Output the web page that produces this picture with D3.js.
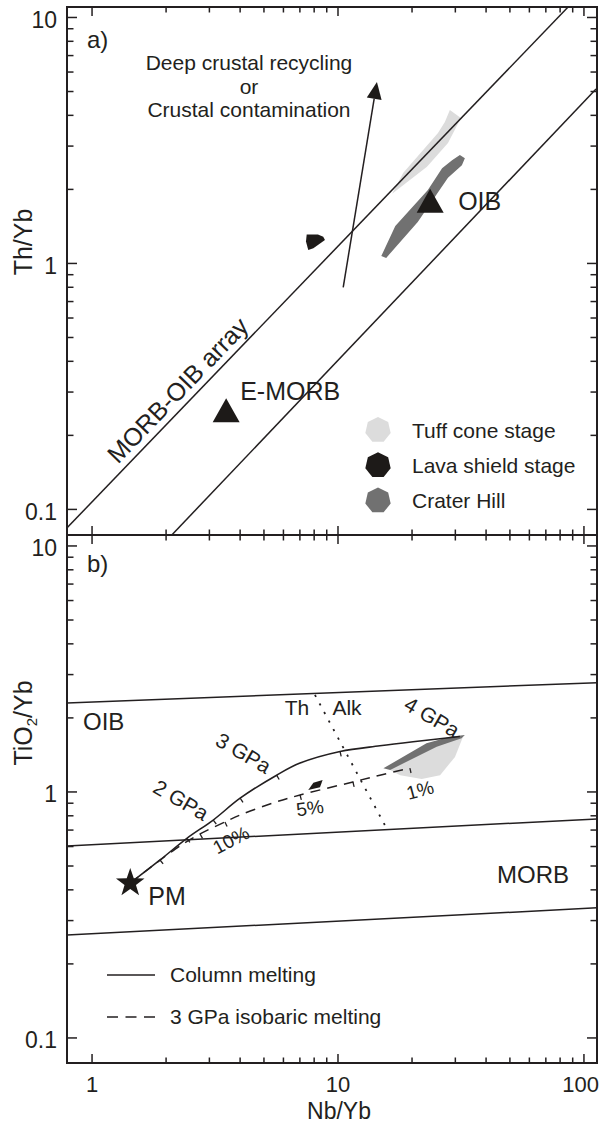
<!DOCTYPE html>
<html>
<head>
<meta charset="utf-8">
<script src="https://cdn.jsdelivr.net/npm/d3@7"></script>
<style>
  body { margin: 0; background: #fff; }
  svg text { font-family: "Liberation Sans", Arial, Helvetica, sans-serif; fill: #231f20; }
</style>
</head>
<body>
<svg id="chart" width="603" height="1124"></svg>
<script>
// ---------- axis domains and tick labels ----------
const nbDomain = [0.791, 113];      // Nb/Yb
const thDomain = [0.0787, 11.03];   // Th/Yb (panel a)
const tiDomain = [0.0791, 11.08];   // TiO2/Yb (panel b)
const xTickLabels = [1, 10, 100];
const yTickLabels = [0.1, 1, 10];

// ---------- panel a: Th/Yb vs Nb/Yb ----------
const arrayUpper = [[0.79, 0.084], [86, 11.0]];
const arrayLower = [[2.11, 0.0787], [112, 5.12]];
const recyclingArrow = [[10.5, 0.80], [14.4, 5.47]];
const tuffConeA = [[28.5, 4.21], [31.6, 3.90], [28.0, 3.09], [23.0, 2.47], [16.6, 1.92], [18.4, 2.33], [25.5, 3.39], [27.2, 3.76]];
const craterHillA = [[31.3, 2.76], [32.8, 2.68], [31.9, 2.51], [28.0, 2.23], [21.1, 1.475], [15.7, 1.053], [15.0, 1.073], [17.1, 1.42], [23.2, 1.99], [26.5, 2.44], [29.1, 2.63]];
const lavaShieldA = [[7.46, 1.31], [8.29, 1.31], [8.71, 1.285], [8.85, 1.246], [7.94, 1.153], [7.57, 1.135], [7.41, 1.227]];
const referenceNames = ["OIB", "E-MORB"];
const referenceNb = [23.7, 3.51];
const referenceTh = [1.80, 0.253];

const legendNames = ["Tuff cone stage", "Lava shield stage", "Crater Hill"];
const legendColors = ["#dcdcdc", "#1d1a18", "#717171"];

// ---------- panel b: TiO2/Yb vs Nb/Yb ----------
const oibBoundary = [[0.791, 2.30], [113, 2.78]];
const morbUpperBoundary = [[0.791, 0.603], [113, 0.777]];
const morbLowerBoundary = [[0.791, 0.262], [113, 0.338]];
const columnMelting = [[1.43, 0.426], [1.89, 0.529], [2.43, 0.648], [3.11, 0.769], [4.0, 0.943], [5.63, 1.17], [7.01, 1.31], [10.2, 1.46], [14.8, 1.54], [20.2, 1.60], [31.3, 1.68]];
const columnTicks = [1.89, 2.43, 3.11, 4.0, 5.63, 10.2];
const isobaricMelting = [[1.43, 0.426], [2.18, 0.586], [2.75, 0.675], [3.47, 0.755], [4.0, 0.806], [5.44, 0.902], [7.01, 0.972], [11.5, 1.098], [14.8, 1.17], [19.6, 1.25]];
const isobaricTicks = [2.75, 3.47, 7.01, 11.5, 19.6];
const thAlkDivide = [[8.06, 2.48], [15.5, 0.734]];
const primitiveMantle = [1.43, 0.426];
const tuffConeB = [[16.3, 1.229], [21.5, 1.51], [32.2, 1.673], [29.9, 1.388], [26.0, 1.17], [21.9, 1.129], [17.9, 1.17]];
const craterHillB = [[15.3, 1.248], [22.9, 1.578], [28.5, 1.678], [32.8, 1.705], [31.8, 1.653], [25.2, 1.528], [16.3, 1.229]];
const lavaShieldB = [[7.57, 1.019], [7.94, 1.091], [8.66, 1.119], [8.45, 1.045]];

// ---------- layout ----------
const INK = "#231f20";
const plotLeft = 67, plotRight = 597;
const aTop = 7, aBottom = 535, bTop = 535, bBottom = 1063;

const svg = d3.select("#chart");

const x = d3.scaleLog().domain(nbDomain).range([plotLeft, plotRight]);
const yA = d3.scaleLog().domain(thDomain).range([aBottom, aTop]);
const yB = d3.scaleLog().domain(tiDomain).range([bBottom, bTop]);

const defs = svg.append("defs");
defs.append("clipPath").attr("id", "clipA").append("rect")
  .attr("x", plotLeft).attr("y", aTop).attr("width", plotRight - plotLeft).attr("height", aBottom - aTop);
defs.append("clipPath").attr("id", "clipB").append("rect")
  .attr("x", plotLeft).attr("y", bTop).attr("width", plotRight - plotLeft).attr("height", bBottom - bTop);

function lineGen(y) {
  return d3.line().x(d => x(d[0])).y(d => y(d[1]));
}
function polyPath(y, pts) {
  return "M" + pts.map(d => x(d[0]) + "," + y(d[1])).join("L") + "Z";
}

// ---------- frame ticks (inward on all four sides) ----------
function drawAxes(y, top, bottom) {
  const xt = x.ticks().filter(v => v >= 1 && v <= 100);
  const yt = y.ticks().filter(v => v >= 0.1 && v <= 10);
  const isMajor = v => Math.abs(Math.log10(v) - Math.round(Math.log10(v))) < 1e-6;
  const g = svg.append("g").attr("stroke", INK).attr("fill", "none");
  xt.forEach(v => {
    const len = isMajor(v) ? 9 : 5.5;
    g.append("line").attr("x1", x(v)).attr("x2", x(v)).attr("y1", bottom).attr("y2", bottom - len).attr("stroke-width", 1.5);
    g.append("line").attr("x1", x(v)).attr("x2", x(v)).attr("y1", top).attr("y2", top + len).attr("stroke-width", 1.5);
  });
  yt.forEach(v => {
    const len = isMajor(v) ? 10 : 6.5;
    g.append("line").attr("y1", y(v)).attr("y2", y(v)).attr("x1", plotLeft).attr("x2", plotLeft + len).attr("stroke-width", 1.5);
    g.append("line").attr("y1", y(v)).attr("y2", y(v)).attr("x1", plotRight).attr("x2", plotRight - len).attr("stroke-width", 1.5);
  });
  g.append("rect").attr("x", plotLeft).attr("y", top).attr("width", plotRight - plotLeft).attr("height", bottom - top)
    .attr("stroke-width", 2);
  yTickLabels.forEach(v => {
    svg.append("text").attr("x", 57).attr("y", y(v) + 10.5).attr("text-anchor", "end")
      .attr("font-size", 23).text(v);
  });
}

// perpendicular tick marks on a curve
function curveTicks(g, y, curve, at, len) {
  at.forEach(v => {
    const i = curve.findIndex(d => Math.abs(d[0] - v) < 1e-9);
    const p = curve[i];
    const a = curve[Math.max(0, i - 1)], b = curve[Math.min(curve.length - 1, i + 1)];
    let dx = x(b[0]) - x(a[0]), dy = y(b[1]) - y(a[1]);
    const L = Math.hypot(dx, dy); dx /= L; dy /= L;
    const px = x(p[0]), py = y(p[1]);
    g.append("line").attr("x1", px).attr("y1", py)
      .attr("x2", px - dy * len).attr("y2", py + dx * len)
      .attr("stroke", INK).attr("stroke-width", 1.3);
  });
}

function heptagon(cx, cy, r) {
  const pts = d3.range(7).map(i => {
    const a = -Math.PI / 2 + i * 2 * Math.PI / 7;
    return [cx + r * Math.cos(a), cy + r * Math.sin(a)];
  });
  return "M" + pts.map(p => p.join(",")).join("L") + "Z";
}

// ================= PANEL A =================
const gA = svg.append("g").attr("clip-path", "url(#clipA)");

gA.append("path").attr("d", polyPath(yA, tuffConeA)).attr("fill", legendColors[0]);
gA.append("path").attr("d", polyPath(yA, craterHillA)).attr("fill", legendColors[2]);
gA.append("path").attr("d", polyPath(yA, lavaShieldA)).attr("fill", legendColors[1]);

[arrayUpper, arrayLower].forEach(l => {
  gA.append("path").attr("d", lineGen(yA)(l)).attr("fill", "none").attr("stroke", INK).attr("stroke-width", 1.5);
});

// crustal recycling arrow
{
  const s = [x(recyclingArrow[0][0]), yA(recyclingArrow[0][1])];
  const t = [x(recyclingArrow[1][0]), yA(recyclingArrow[1][1])];
  let ux = t[0] - s[0], uy = t[1] - s[1];
  const L = Math.hypot(ux, uy); ux /= L; uy /= L;
  const hl = 17, hw = 7.5;
  const bx = t[0] - ux * hl, by = t[1] - uy * hl;
  gA.append("line").attr("x1", s[0]).attr("y1", s[1]).attr("x2", bx).attr("y2", by)
    .attr("stroke", INK).attr("stroke-width", 1.5);
  gA.append("path")
    .attr("d", `M${t[0]},${t[1]}L${bx - uy * hw},${by + ux * hw}L${bx + uy * hw},${by - ux * hw}Z`)
    .attr("fill", "#1d1a18");
}

// OIB and E-MORB reference compositions
referenceNames.forEach((name, i) => {
  const cx = x(referenceNb[i]), cy = yA(referenceTh[i]);
  gA.append("path").attr("d", `M${cx},${cy - 12}L${cx + 13.5},${cy + 12}L${cx - 13.5},${cy + 12}Z`).attr("fill", "#1d1a18");
});
svg.append("text").attr("x", x(referenceNb[0]) + 28).attr("y", yA(referenceTh[0]) + 9.5)
  .attr("font-size", 25).text(referenceNames[0]);
svg.append("text").attr("x", x(referenceNb[1]) + 14).attr("y", yA(referenceTh[1]) - 10.5)
  .attr("font-size", 25).text(referenceNames[1]);

// MORB-OIB array label along the upper boundary
{
  const p0 = [x(arrayUpper[0][0]), yA(arrayUpper[0][1])];
  const p1 = [x(arrayUpper[1][0]), yA(arrayUpper[1][1])];
  const ang = Math.atan2(p1[1] - p0[1], p1[0] - p0[0]) * 180 / Math.PI;
  const tx = 189;
  const ty = p0[1] + (p1[1] - p0[1]) * (tx - p0[0]) / (p1[0] - p0[0]);
  svg.append("text").attr("transform", `translate(${tx},${ty}) rotate(${ang})`)
    .attr("y", -7).attr("text-anchor", "middle").attr("font-size", 25).text("MORB-OIB array");
}

svg.append("text").attr("x", 87).attr("y", 48).attr("font-size", 24).text("a)");
const recyclingText = ["Deep crustal recycling", "or", "Crustal contamination"];
recyclingText.forEach((t, i) => {
  svg.append("text").attr("x", 249).attr("y", 70 + i * 23.5).attr("text-anchor", "middle")
    .attr("font-size", 21).text(t);
});

// legend
legendNames.forEach((name, i) => {
  const cy = 430 + i * 35.3;
  svg.append("path").attr("d", heptagon(378, cy, 13)).attr("fill", legendColors[i]);
  svg.append("text").attr("x", 412).attr("y", cy + 7.5).attr("font-size", 21).text(name);
});

drawAxes(yA, aTop, aBottom);
svg.append("text").attr("transform", "translate(32,242) rotate(-90)").attr("text-anchor", "middle")
  .attr("font-size", 25).text("Th/Yb");

// ================= PANEL B =================
const gB = svg.append("g").attr("clip-path", "url(#clipB)");

gB.append("path").attr("d", polyPath(yB, tuffConeB)).attr("fill", legendColors[0]);
gB.append("path").attr("d", polyPath(yB, craterHillB)).attr("fill", legendColors[2]);
gB.append("path").attr("d", polyPath(yB, lavaShieldB)).attr("fill", legendColors[1]);

[oibBoundary, morbUpperBoundary, morbLowerBoundary].forEach(l => {
  gB.append("path").attr("d", lineGen(yB)(l)).attr("fill", "none").attr("stroke", INK).attr("stroke-width", 1.5);
});

gB.append("path").attr("d", lineGen(yB)(thAlkDivide)).attr("fill", "none").attr("stroke", INK)
  .attr("stroke-width", 1.8).attr("stroke-dasharray", "2.2,7.5");

const smooth = d3.line().x(d => x(d[0])).y(d => yB(d[1])).curve(d3.curveCatmullRom.alpha(0.5));
gB.append("path").attr("d", smooth(isobaricMelting)).attr("fill", "none").attr("stroke", INK)
  .attr("stroke-width", 1.5).attr("stroke-dasharray", "10,7");
gB.append("path").attr("d", smooth(columnMelting)).attr("fill", "none").attr("stroke", INK)
  .attr("stroke-width", 1.6);
curveTicks(gB, yB, columnMelting, columnTicks, 5);
curveTicks(gB, yB, isobaricMelting, isobaricTicks, 5);

// primitive mantle star
{
  const cx = x(primitiveMantle[0]), cy = yB(primitiveMantle[1]);
  const pts = d3.range(10).map(i => {
    const r = i % 2 === 0 ? 15 : 6;
    const a = -Math.PI / 2 + i * Math.PI / 5;
    return [cx + r * Math.cos(a), cy + r * Math.sin(a)];
  });
  svg.append("path").attr("d", "M" + pts.map(p => p.join(",")).join("L") + "Z").attr("fill", "#1d1a18");
  svg.append("text").attr("x", cx + 18).attr("y", cy + 22).attr("font-size", 25).text("PM");
}

svg.append("text").attr("x", 87).attr("y", 572).attr("font-size", 24).text("b)");
svg.append("text").attr("x", 83).attr("y", 730).attr("font-size", 24).text("OIB");
svg.append("text").attr("x", 497).attr("y", 883).attr("font-size", 24).text("MORB");
svg.append("text").attr("x", 297).attr("y", 715).attr("text-anchor", "middle").attr("font-size", 21).text("Th");
svg.append("text").attr("x", 347).attr("y", 715).attr("text-anchor", "middle").attr("font-size", 21).text("Alk");

const curveLabels = [
  { t: "4 GPa", x: 432, y: 717, r: 30, s: 21 },
  { t: "3 GPa", x: 243.5, y: 753, r: 30, s: 21 },
  { t: "2 GPa", x: 181, y: 800, r: 30, s: 21 },
  { t: "10%", x: 231, y: 840, r: -28, s: 19 },
  { t: "5%", x: 310, y: 808, r: -8, s: 19 },
  { t: "1%", x: 420, y: 790, r: -15, s: 19 }
];
curveLabels.forEach(c => {
  svg.append("text").attr("transform", `translate(${c.x},${c.y}) rotate(${c.r})`)
    .attr("text-anchor", "middle").attr("dy", "0.35em").attr("font-size", c.s).text(c.t);
});

// legend
svg.append("line").attr("x1", 107).attr("x2", 155).attr("y1", 975).attr("y2", 975)
  .attr("stroke", INK).attr("stroke-width", 1.5);
svg.append("text").attr("x", 170).attr("y", 982).attr("font-size", 21).text("Column melting");
svg.append("line").attr("x1", 107).attr("x2", 155).attr("y1", 1017).attr("y2", 1017)
  .attr("stroke", INK).attr("stroke-width", 1.5).attr("stroke-dasharray", "11,7.5");
svg.append("text").attr("x", 170).attr("y", 1024).attr("font-size", 21).text("3 GPa isobaric melting");

drawAxes(yB, bTop, bBottom);
{
  const t = svg.append("text").attr("transform", "translate(32,723) rotate(-90)").attr("text-anchor", "middle")
    .attr("font-size", 25);
  t.append("tspan").text("TiO");
  t.append("tspan").attr("font-size", 15).attr("dy", 5).text("2");
  t.append("tspan").attr("dy", -5).text("/Yb");
}

// shared x tick labels and title
xTickLabels.forEach((v, i) => {
  const last = i === xTickLabels.length - 1;
  svg.append("text").attr("x", last ? 599 : x(v)).attr("y", 1092)
    .attr("text-anchor", last ? "end" : "middle").attr("font-size", 22).text(v);
});
svg.append("text").attr("x", 339).attr("y", 1119).attr("text-anchor", "middle").attr("font-size", 23).text("Nb/Yb");
</script>
</body>
</html>
